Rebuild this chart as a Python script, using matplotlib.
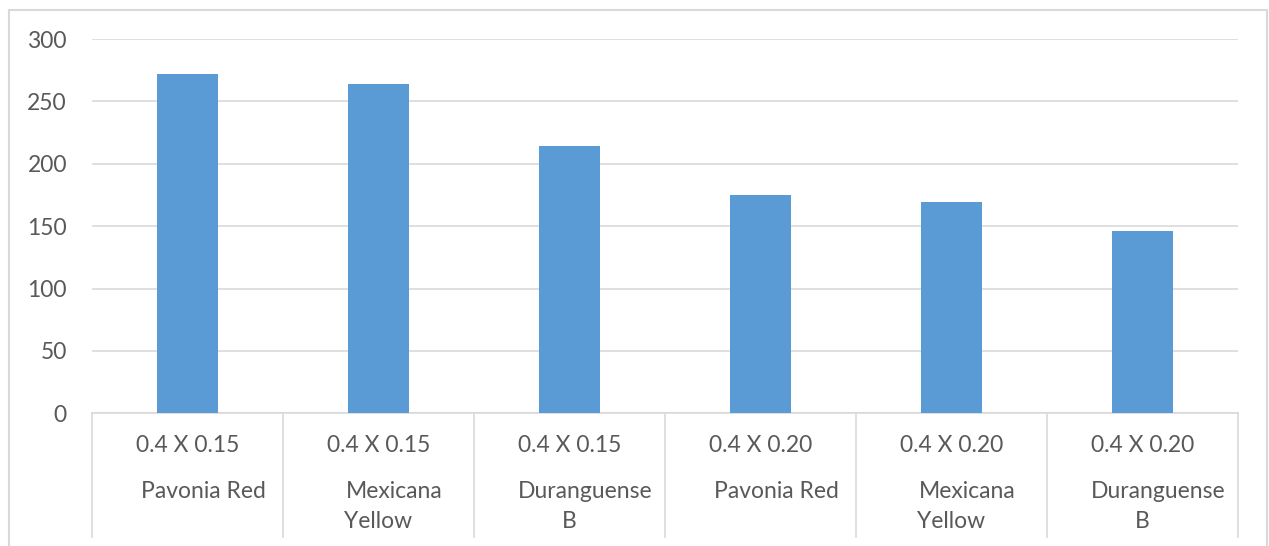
import matplotlib
matplotlib.use("Agg")
import matplotlib.pyplot as plt
from matplotlib.patches import Rectangle
from matplotlib.lines import Line2D

# ---- data ----
sizes = ["0.4 X 0.15", "0.4 X 0.15", "0.4 X 0.15", "0.4 X 0.20", "0.4 X 0.20", "0.4 X 0.20"]
varieties = [["Pavonia Red"], ["Mexicana", "Yellow"], ["Duranguense", "B"],
             ["Pavonia Red"], ["Mexicana", "Yellow"], ["Duranguense", "B"]]
values = [272, 264, 214, 175, 169, 146]
yticks = [0, 50, 100, 150, 200, 250, 300]

plt.rcParams['font.family'] = ['Lato', 'DejaVu Sans']
W, H = 1269, 546
fig = plt.figure(figsize=(W / 100, H / 100), dpi=100)

x0, x1 = 92, 1238
ytop, ybot = 39, 413.3
ax = fig.add_axes([x0 / W, (H - ybot) / H, (x1 - x0) / W, (ybot - ytop) / H])

grid_c = "#d9d9d9"
text_c = "#595959"
bar_c = "#5b9bd5"
fs = 16.5

pos = list(range(len(values)))
ax.bar(pos, values, width=0.315, color=bar_c, zorder=3)
ax.set_xlim(-0.5, len(values) - 0.5)
ax.set_ylim(0, 300)
ax.set_yticks(yticks)
ax.set_yticklabels([str(v) for v in yticks])
ax.tick_params(axis='y', length=0, pad=18, labelsize=fs, labelcolor=text_c)
ax.set_xticks([])
ax.yaxis.grid(True, color=grid_c, linewidth=1.2, zorder=0)
for s in ["left", "right", "top"]:
    ax.spines[s].set_visible(False)
ax.spines["bottom"].set_color(grid_c)
ax.spines["bottom"].set_linewidth(1.2)

# category separators
axh = ybot - ytop
sep_bottom = -(537 - ybot) / axh
tr = ax.get_xaxis_transform()
for b in [p - 0.5 for p in pos] + [pos[-1] + 0.5]:
    ax.add_line(Line2D([b, b], [0, sep_bottom], transform=tr, color=grid_c,
                       linewidth=1.2, clip_on=False))

# category labels
for i, (sz, var) in enumerate(zip(sizes, varieties)):
    ax.annotate(sz, xy=(i, 0), xycoords=tr, xytext=(0, -(445 - ybot)),
                textcoords='offset pixels', ha='center', va='center',
                fontsize=fs, color=text_c)
    offs = [16, 0]
    ys = [492, 521]
    for j, line in enumerate(var):
        ax.annotate(line, xy=(i, 0), xycoords=tr, xytext=(offs[j], -(ys[j] - ybot)),
                    textcoords='offset pixels', ha='center', va='center',
                    fontsize=fs, color=text_c)

# outer border
fig.patches.append(Rectangle((8.5 / W, -0.05), (1267 - 8.5) / W, 1.05 - 10 / H,
                             transform=fig.transFigure, fill=False,
                             edgecolor=grid_c, linewidth=1.5))

fig.savefig("out.png", dpi=100)
